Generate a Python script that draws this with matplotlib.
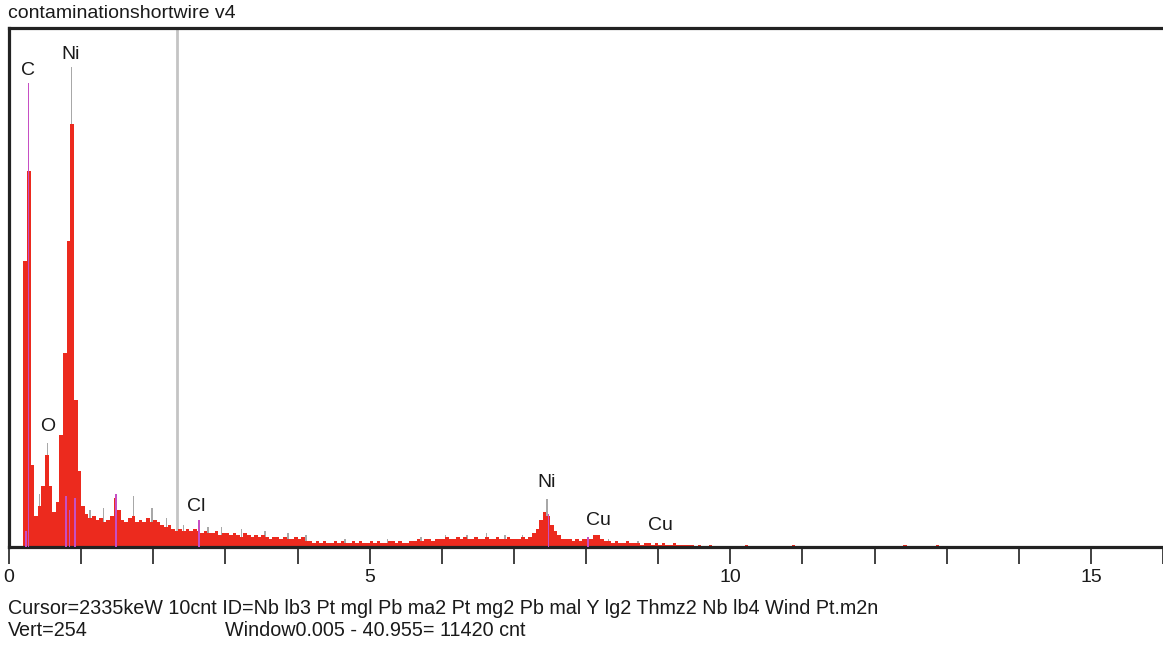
import numpy as np
import matplotlib.pyplot as plt

# EDS spectrum, 0.05 keV channels from 0 to 13 keV (counts)
bin_width = 0.05
counts = [
    # 0 - 1 keV
    0, 0, 0, 0, 140, 184, 40, 15, 20, 30, 45, 30, 17, 22, 55, 95, 150, 207, 72, 37,
    # 1 - 2 keV
    20, 16, 14, 15, 13, 14, 12, 13, 15, 24, 18, 13, 12, 14, 15, 12, 13, 12, 14, 12,
    # 2 - 3 keV
    13, 12, 11, 10, 11, 9, 8, 9, 8, 9, 8, 9, 8, 7, 8, 7, 7, 8, 6, 7,
    # 3 - 4 keV
    7, 6, 7, 6, 5, 7, 6, 5, 6, 5, 6, 5, 4, 5, 5, 4, 5, 4, 4, 5,
    # 4 - 5 keV
    4, 5, 3, 3, 2, 3, 2, 3, 2, 2, 3, 2, 3, 2, 2, 3, 2, 3, 2, 2,
    # 5 - 6 keV
    3, 2, 3, 2, 2, 3, 3, 2, 3, 2, 2, 3, 3, 4, 3, 4, 4, 3, 4, 4,
    # 6 - 7 keV
    4, 5, 4, 4, 5, 4, 5, 4, 4, 5, 4, 4, 5, 4, 4, 5, 4, 4, 5, 4,
    # 7 - 8 keV
    4, 4, 5, 4, 5, 7, 9, 13, 17, 15, 11, 8, 6, 4, 4, 4, 3, 4, 3, 4,
    # 8 - 9 keV
    4, 4, 6, 6, 4, 3, 3, 2, 3, 2, 2, 3, 2, 2, 2, 1, 2, 2, 1, 2,
    # 9 - 10 keV
    1, 2, 1, 1, 2, 1, 1, 1, 1, 1, 0.5, 1, 0.5, 0.5, 1, 0.5, 0.5, 0.5, 0.5, 0.5,
    # 10 - 11 keV
    0, 0, 0, 0, 0.8, 0, 0, 0, 0, 0, 0, 0, 0, 0, 0, 0, 0, 0.8, 0, 0,
    # 11 - 12 keV
    0, 0, 0, 0, 0, 0, 0, 0, 0, 0, 0, 0, 0, 0, 0, 0, 0, 0, 0, 0,
    # 12 - 13 keV
    0, 0, 0, 0, 0, 0, 0, 0, 0.8, 0, 0, 0, 0, 0, 0, 0, 0, 0.8, 0, 0,
]

# grey spikes of the overlaid spectrum (energy keV, counts)
grey_e = [0.42, 0.53, 0.87, 1.12, 1.31, 1.47, 1.73, 1.98, 2.18, 2.42, 2.76, 2.95,
          3.22, 3.55, 3.87, 4.12, 4.66, 5.25, 5.71, 6.05, 6.35, 6.62, 6.88, 7.12,
          7.46, 8.31, 8.72]
grey_c = [26, 51, 235, 18, 19, 22, 25, 19, 14, 11, 10, 10,
          9, 8, 7, 6, 4, 4, 5, 6, 6, 7, 6, 6,
          23.5, 4, 3]

# magenta ID markers (energy keV, counts)
mag_e = [0.27, 0.24, 0.79, 0.84, 0.92, 1.48, 2.63, 7.48, 8.03]
mag_c = [227, 8, 25, 18, 24, 26, 13, 16, 5]

# element labels
lab_txt = ['C', 'Ni', 'O', 'Cl', 'Ni', 'Cu', 'Cu']
lab_e = [0.26, 0.86, 0.53, 2.59, 7.45, 8.17, 9.03]
lab_c = [233, 241, 59, 20, 31.5, 13, 10.5]

cursor_kev = 2.335
xmax = 16
vert = 254

W, H = 1163, 649
fig = plt.figure(figsize=(W / 100, H / 100), dpi=100)
plt.rcParams['font.family'] = ['Liberation Sans', 'DejaVu Sans']
ax = fig.add_axes([9 / W, 1 - 547 / H, (W - 9) / W, (547 - 28) / H])

energy = np.arange(len(counts)) * bin_width
ax.bar(grey_e, grey_c, width=0.02, color='#a8a8a8', linewidth=0, zorder=1)
ax.bar(energy, counts, width=bin_width, align='edge', color='#ec2a1e', linewidth=0, zorder=2)
ax.bar(mag_e, mag_c, width=0.025, color='#c64fc4', linewidth=0, zorder=3)
ax.axvline(cursor_kev, color='#c4c4c4', lw=2, zorder=0)

for t, e, c in zip(lab_txt, lab_e, lab_c):
    ax.text(e, c, t, ha='center', va='center', fontsize=14, color='#1a1a1a')

ax.set_xlim(0, xmax)
ax.set_ylim(0, vert)
ax.set_yticks([])
ax.set_xticks(range(0, xmax + 1))
ax.set_xticklabels([str(i) if i % 5 == 0 else '' for i in range(0, xmax + 1)])
ax.tick_params(axis='x', direction='out', length=12, width=1.3, color='#333333',
               labelsize=14, pad=4, labelcolor='#1a1a1a')
ax.spines['right'].set_visible(False)
for s in ['left', 'top', 'bottom']:
    ax.spines[s].set_linewidth(2.3)
    ax.spines[s].set_color('#222222')

fig.text(8 / W, 1 - 13 / H, 'contaminationshortwire v4', fontsize=14, va='center', color='#1a1a1a')
fig.text(8 / W, 1 - 608 / H,
         'Cursor=2335keW 10cnt ID=Nb lb3 Pt mgl Pb ma2 Pt mg2 Pb mal Y lg2 Thmz2 Nb lb4 Wind Pt.m2n',
         fontsize=14.2, va='center', color='#1a1a1a')
fig.text(8 / W, 1 - 631 / H, 'Vert=254', fontsize=14.2, va='center', color='#1a1a1a')
fig.text(225 / W, 1 - 631 / H, 'Window0.005 - 40.955= 11420 cnt', fontsize=14.2, va='center', color='#1a1a1a')

fig.savefig('out.png', dpi=100)
